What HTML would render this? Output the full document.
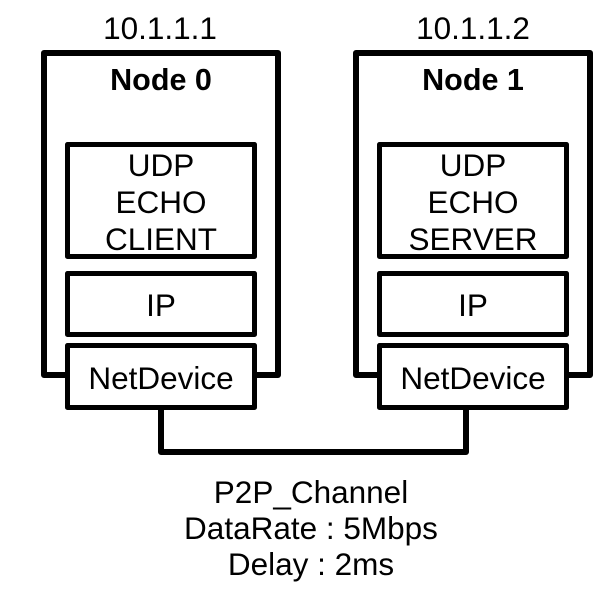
<!DOCTYPE html>
<html><head><style>
html,body{margin:0;padding:0;background:#fff;}
svg{display:block;}
text{font-family:"Liberation Sans",Arial,sans-serif;fill:#000;}
</style></head><body>
<svg width="615" height="598" viewBox="0 0 615 598" xmlns="http://www.w3.org/2000/svg">
<g fill="none" stroke="#000" stroke-linejoin="round">
<polyline points="161,410 161,452 466,452 466,410" stroke-width="6"/>
<rect x="44" y="53" width="234" height="322" stroke-width="6" fill="#fff"/>
<rect x="356" y="53" width="234" height="322" stroke-width="6" fill="#fff"/>
<rect x="67.5" y="144.5" width="187" height="112" stroke-width="5"/>
<rect x="67.5" y="273.5" width="187" height="61" stroke-width="5"/>
<rect x="67.5" y="345.5" width="187" height="62" stroke-width="5" fill="#fff"/>
<rect x="379.5" y="144.5" width="187" height="112" stroke-width="5"/>
<rect x="379.5" y="273.5" width="187" height="61" stroke-width="5"/>
<rect x="379.5" y="345.5" width="187" height="62" stroke-width="5" fill="#fff"/>
</g>
<g font-size="31.5" text-anchor="middle">
<text x="160" y="39">10.1.1.1</text>
<text x="473" y="39">10.1.1.2</text>
<text x="161" y="90" font-weight="bold" font-size="30.5">Node 0</text>
<text x="473" y="90" font-weight="bold" font-size="30.5">Node 1</text>
<text x="161" y="176">UDP</text>
<text x="161" y="213">ECHO</text>
<text x="161" y="250">CLIENT</text>
<text x="473" y="176">UDP</text>
<text x="473" y="213">ECHO</text>
<text x="473" y="250">SERVER</text>
<text x="161" y="316">IP</text>
<text x="473" y="316">IP</text>
<text x="161" y="389">NetDevice</text>
<text x="473" y="389">NetDevice</text>
<text x="311" y="503">P2P_Channel</text>
<text x="311" y="539">DataRate : 5Mbps</text>
<text x="311" y="575">Delay : 2ms</text>
</g>
</svg>
</body></html>
